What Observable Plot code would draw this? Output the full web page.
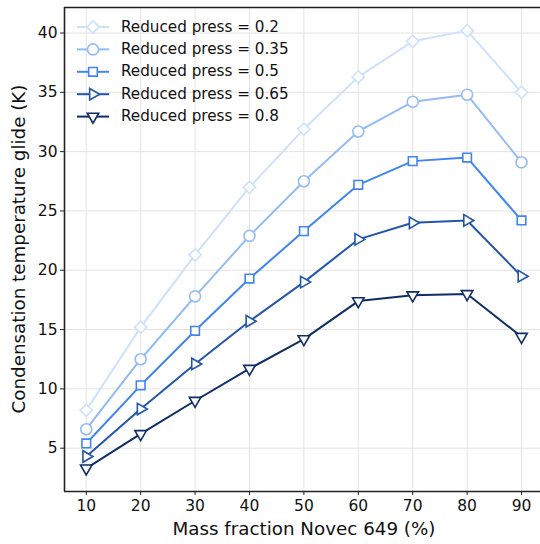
<!DOCTYPE html>
<html>
<head>
<meta charset="utf-8">
<script src="https://cdn.jsdelivr.net/npm/d3@7"></script>
<script src="https://cdn.jsdelivr.net/npm/@observablehq/plot@0.6"></script>
<style>
  html, body { margin: 0; padding: 0; background: #fff; }
  #chart { width: 540px; height: 544px; }
  svg { font-family: "DejaVu Sans", sans-serif; }
</style>
</head>
<body>
<div id="chart"></div>
<script>
// ---- data ----
const massFractions = [10, 20, 30, 40, 50, 60, 70, 80, 90];
const seriesNames = ["Reduced press = 0.2", "Reduced press = 0.35", "Reduced press = 0.5", "Reduced press = 0.65", "Reduced press = 0.8"];
const glide02  = [8.2, 15.2, 21.3, 27.0, 31.9, 36.3, 39.3, 40.2, 35.0];
const glide035 = [6.6, 12.5, 17.8, 22.9, 27.5, 31.7, 34.2, 34.8, 29.1];
const glide05  = [5.4, 10.3, 14.9, 19.3, 23.3, 27.2, 29.2, 29.5, 24.2];
const glide065 = [4.3, 8.3, 12.1, 15.7, 19.0, 22.6, 24.0, 24.2, 19.5];
const glide08  = [3.3, 6.2, 9.0, 11.7, 14.2, 17.4, 17.9, 18.0, 14.4];
const xTicks = [10, 20, 30, 40, 50, 60, 70, 80, 90];
const yTicks = [5, 10, 15, 20, 25, 30, 35, 40];

// ---- styles ----
const colors = ["#cde1fc", "#93bbf6", "#4185f2", "#2256aa", "#0f2e66"];
const symbols = ["diamond2", "circle", "square2", "triangle2", "triangle2"];
const rotations = [0, 0, 0, 90, 180];
const d3Symbols = [d3.symbolDiamond2, d3.symbolCircle, d3.symbolSquare2, d3.symbolTriangle2, d3.symbolTriangle2];
const R = 5.5;

const allSeries = [glide02, glide035, glide05, glide065, glide08];
const rows = [];
allSeries.forEach((vals, i) => {
  vals.forEach((v, j) => rows.push({series: seriesNames[i], idx: i, x: massFractions[j], y: v}));
});

const xDomain = [6, 93.49];
const yDomain = [1.35, 42.15];

const plot = Plot.plot({
  width: 540,
  height: 544,
  marginLeft: 64,
  marginRight: 0,
  marginTop: 7,
  marginBottom: 53,
  style: {fontFamily: "DejaVu Sans, sans-serif", background: "#fff"},
  x: {domain: xDomain, ticks: xTicks},
  y: {domain: yDomain, ticks: yTicks},
  color: {domain: seriesNames, range: colors},
  symbol: {domain: seriesNames, range: symbols},
  marks: [
    Plot.gridX(xTicks, {stroke: "#e3e3e3", strokeOpacity: 1, strokeWidth: 1}),
    Plot.gridY(yTicks, {stroke: "#e3e3e3", strokeOpacity: 1, strokeWidth: 1}),
    Plot.line(rows, {x: "x", y: "y", z: "series", stroke: "series", strokeWidth: 2}),
    Plot.dot(rows, {x: "x", y: "y", symbol: "series", stroke: "series", fill: "white", r: R, strokeWidth: 1.6, rotate: d => rotations[d.idx]}),
    Plot.ruleX([xDomain[0]], {stroke: "#222", strokeWidth: 1.6}),
    Plot.ruleY(yDomain, {stroke: "#222", strokeWidth: 1.6}),
    Plot.axisX(xTicks, {tickSize: 4, tickPadding: 4, fontSize: 15.5, label: null, stroke: "#222", fill: "#111"}),
    Plot.axisY(yTicks, {tickSize: 4, tickPadding: 3, fontSize: 15.5, label: null, stroke: "#222", fill: "#111"})
  ]
});

document.getElementById("chart").appendChild(plot);

// ---- axis labels and legend ----
(function () {
  const svg = d3.select(plot);
  // make sure tick labels use the larger font
  svg.selectAll('g[aria-label="x-axis tick label"], g[aria-label="y-axis tick label"]')
    .attr("font-size", 15.5)
    .selectAll("text").attr("font-size", 15.5);

  const xs = plot.scale("x"), ys = plot.scale("y");
  const pLeft = xs.apply(xDomain[0]), pRight = 540;
  const pTop = ys.apply(yDomain[1]), pBottom = ys.apply(yDomain[0]);

  svg.append("text")
    .attr("x", (pLeft + pRight) / 2 + 2)
    .attr("y", pBottom + 44)
    .attr("text-anchor", "middle")
    .attr("font-size", 18.3)
    .attr("fill", "#111")
    .text("Mass fraction Novec 649 (%)");

  svg.append("text")
    .attr("transform", `translate(20,${(pTop + pBottom) / 2}) rotate(-90)`)
    .attr("text-anchor", "middle")
    .attr("dominant-baseline", "middle")
    .attr("font-size", 18.3)
    .attr("fill", "#111")
    .text("Condensation temperature glide (K)");

  const leg = svg.append("g");
  seriesNames.forEach((name, i) => {
    const yy = pTop + 20 + i * 22.4;
    const g = leg.append("g");
    g.append("line").attr("x1", pLeft + 13).attr("x2", pLeft + 45).attr("y1", yy).attr("y2", yy)
      .attr("stroke", colors[i]).attr("stroke-width", 2);
    g.append("path")
      .attr("d", d3.symbol(d3Symbols[i], Math.PI * R * R)())
      .attr("transform", `translate(${pLeft + 29},${yy}) rotate(${rotations[i]})`)
      .attr("fill", "white").attr("stroke", colors[i]).attr("stroke-width", 1.6);
    g.append("text").attr("x", pLeft + 57).attr("y", yy)
      .attr("text-anchor", "start")
      .attr("dominant-baseline", "middle")
      .attr("font-size", 15.2).attr("fill", "#111")
      .text(name);
  });
})();
</script>
</body>
</html>
